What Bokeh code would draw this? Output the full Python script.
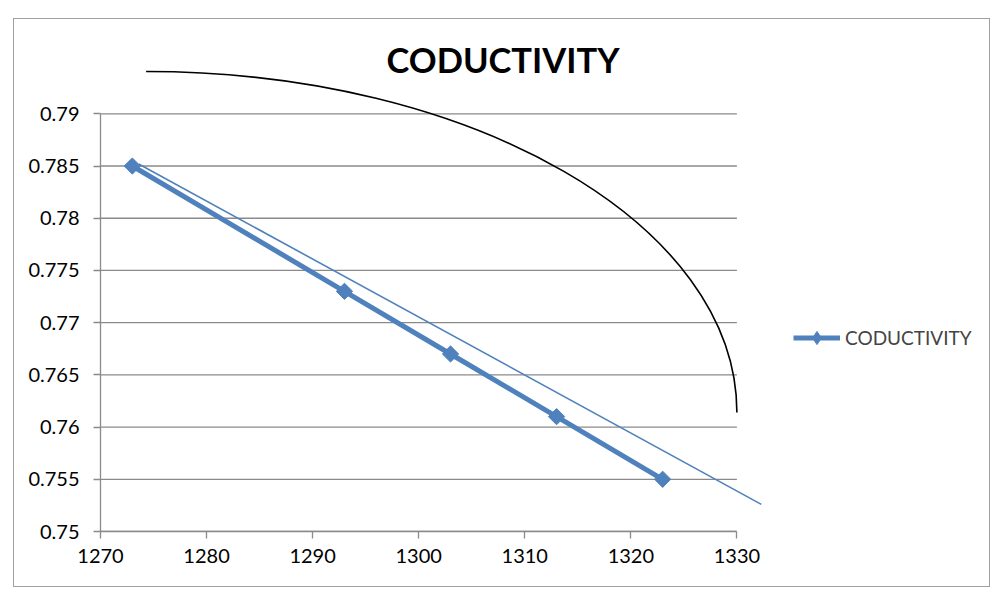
import math
from bokeh.plotting import figure
from bokeh.models import Range1d, FixedTicker, Label, Legend, LegendItem
from bokeh.embed import file_html
from bokeh.resources import INLINE

# ---- data ----
temperature = [1273, 1293, 1303, 1313, 1323]
conductivity = [0.785, 0.773, 0.767, 0.761, 0.755]
series_name = "CODUCTIVITY"
chart_title = "CODUCTIVITY"

x_ticks = [1270, 1280, 1290, 1300, 1310, 1320, 1330]
x_tick_labels = ["1270", "1280", "1290", "1300", "1310", "1320", "1330"]
y_ticks = [0.75, 0.755, 0.76, 0.765, 0.77, 0.775, 0.78, 0.785, 0.79]
y_tick_labels = ["0.75", "0.755", "0.76", "0.765", "0.77", "0.775", "0.78", "0.785", "0.79"]

# hand-drawn straight line (as in the picture)
drawn_line_x = [1273.6, 1332.3]
drawn_line_y = [0.7852, 0.7526]

# hand-drawn quarter-ellipse arc: centre and end points
arc_center_x = 1274.3
arc_center_y = 0.7614
arc_top_y = 0.79405
arc_right_x = 1330.0

# ---- layout constants ----
W, H = 977, 569
ML, MR, MT, MB = 86, 3, 2, 57
PX_PER_X = 636.4 / 60.0
PX_PER_Y = 417.7 / 0.04
x_end = 1270 + (W - ML - MR) / PX_PER_X
y_end = 0.75 + (H - MT - MB) / PX_PER_Y

BLUE = "#4F81BD"
GRID = "#8a8a8a"
FONT = "Lato"

p = figure(width=W, height=H, title=None,
           x_range=Range1d(1270, x_end), y_range=Range1d(0.75, y_end),
           output_backend="svg", toolbar_location=None,
           min_border_left=ML, min_border_right=MR,
           min_border_top=MT, min_border_bottom=MB)
p.styles = {"margin-left": "13px", "margin-top": "18px",
            "border": "1px solid #a0a0a0"}
p.outline_line_color = None
p.grid.visible = False
p.background_fill_color = "white"
p.border_fill_color = "white"

# axes
for ax, ticks, labels, bounds in ((p.xaxis[0], x_ticks, x_tick_labels, (1270, 1330)),
                                  (p.yaxis[0], y_ticks, y_tick_labels, (0.75, 0.79))):
    ax.ticker = FixedTicker(ticks=ticks)
    ax.major_label_overrides = {t: l for t, l in zip(ticks, labels)}
    ax.bounds = bounds
    ax.axis_line_color = GRID
    ax.axis_line_width = 1.3
    ax.major_tick_line_color = GRID
    ax.major_tick_line_width = 1.3
    ax.major_tick_out = 7
    ax.major_tick_in = 0
    ax.minor_tick_line_color = None
    ax.major_label_text_font = FONT
    ax.major_label_text_font_size = "20px"
    ax.major_label_text_color = "black"
p.xaxis[0].major_label_standoff = 10
p.yaxis[0].major_label_standoff = 14

# horizontal gridlines within the plot area
p.segment(x0=[x_ticks[0]] * len(y_ticks), x1=[x_ticks[-1]] * len(y_ticks),
          y0=y_ticks, y1=y_ticks, line_color=GRID, line_width=1.3)

# hand-drawn arc (quarter ellipse as cubic bezier)
k = 0.5523
a = arc_right_x - arc_center_x
b = arc_top_y - arc_center_y
p.bezier(x0=[arc_center_x], y0=[arc_top_y], x1=[arc_right_x], y1=[arc_center_y],
         cx0=[arc_center_x + k * a], cy0=[arc_top_y],
         cx1=[arc_right_x], cy1=[arc_center_y + k * b],
         line_color="black", line_width=1.6)

# hand-drawn straight line
p.line(drawn_line_x, drawn_line_y, line_color=BLUE, line_width=1.6)

# series
r_line = p.line(temperature, conductivity, line_color=BLUE, line_width=5)
r_mark = p.scatter(temperature, conductivity, marker="square", angle=math.pi / 4,
                   size=11.5, fill_color=BLUE, line_color=BLUE)
# legend-only diamond (zero size in the plot area)
r_leg = p.scatter(temperature, conductivity, marker="diamond", size=0,
                  fill_color=BLUE, line_color=BLUE)

# title
p.add_layout(Label(x=402.5, y=472, x_units="screen", y_units="screen",
                   text=chart_title, text_font=FONT, text_font_size="34.5px",
                   text_font_style="bold", text_align="center",
                   text_baseline="alphabetic", text_color="black"))

legend = Legend(items=[LegendItem(label=series_name, renderers=[r_line, r_leg])],
                location=(693, 177), glyph_width=47, glyph_height=33,
                label_standoff=5, padding=0, margin=0, spacing=0,
                label_text_font=FONT, label_text_font_size="19px",
                border_line_color=None, background_fill_alpha=0)
p.add_layout(legend)

open("out.html", "w").write(file_html(p, INLINE))
